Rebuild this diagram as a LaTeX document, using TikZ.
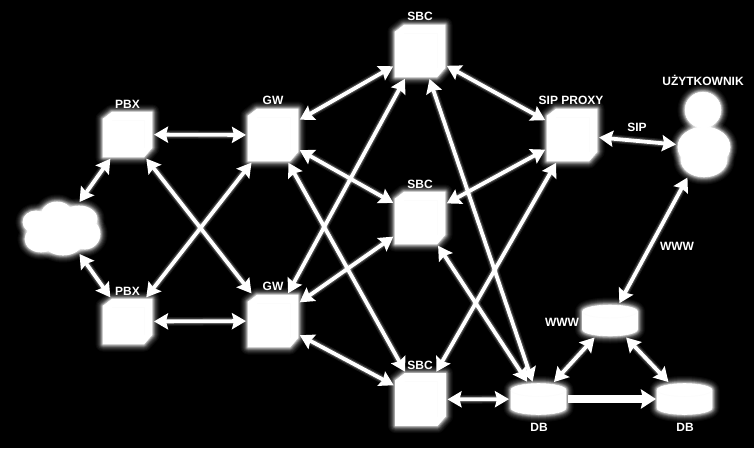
\documentclass[tikz,border=0pt]{standalone}
\usepackage{fontspec}
\setmainfont{Liberation Sans}
\usetikzlibrary{arrows.meta,shapes.geometric}
\tikzset{
  glow/.style={
    preaction={draw=white,draw opacity=.04,line width=15pt,line join=round},
    preaction={draw=white,draw opacity=.05,line width=13pt,line join=round},
    preaction={draw=white,draw opacity=.07,line width=11pt,line join=round},
    preaction={draw=white,draw opacity=.09,line width=9pt,line join=round},
    preaction={draw=white,draw opacity=.12,line width=7pt,line join=round},
    preaction={draw=white,draw opacity=.16,line width=5.5pt,line join=round},
    preaction={draw=white,draw opacity=.22,line width=4pt,line join=round},
    preaction={draw=white,draw opacity=.32,line width=2.5pt,line join=round}},
  solid white/.style={fill=white,draw=white,line width=.6pt},
  faint/.style={draw=black!1.2,line width=.5pt},
  slot/.style={rectangle,inner sep=0pt,outer sep=0pt},
  blob/.style={glow,solid white,ellipse,inner sep=0pt},
  lobe/.style={solid white,ellipse,inner sep=0pt},
  zone/.style={ellipse,inner sep=0pt,outer sep=0pt},
  link/.style={white,line width=3.8pt,shorten <=2pt,shorten >=2pt,
    {Stealth[length=14pt,width=16pt,inset=2pt]}-{Stealth[length=14pt,width=16pt,inset=2pt]},
    preaction={draw=white,draw opacity=.1,line width=8.5pt,arrows=-,shorten <=10pt,shorten >=10pt},
    preaction={draw=white,draw opacity=.2,line width=6pt,arrows=-,shorten <=10pt,shorten >=10pt}},
  fatlink/.style={white,line width=7.5pt,shorten <=2pt,shorten >=1pt,-{Stealth[length=15pt,width=19pt,inset=2pt]}},
  lab/.style={white,font=\bfseries\fontsize{12}{12}\selectfont,inner sep=0pt},
}
% name, x, y, width, height
\newcommand\chambox[5]{%
  \node[slot,minimum width=#4pt,minimum height=#5pt] (#1) at (#2,#3) {};
  \path[glow,solid white] ([xshift=9pt]#1.north west) -- (#1.north east)
    -- ([yshift=9pt]#1.south east) -- ([xshift=-8pt]#1.south east)
    -- (#1.south west) -- ([yshift=-7pt]#1.north west) -- cycle;
  \draw[faint] ([xshift=9pt,yshift=-8pt]#1.north west) -- ([xshift=-8pt,yshift=-8pt]#1.north east)
    -- ([xshift=-8pt,yshift=9pt]#1.south east);
}
\newcommand\drum[5]{%
  \node[slot,minimum width=#4pt,minimum height=#5pt] (#1) at (#2,#3) {};
  \path[glow,solid white] ([yshift=-6.5pt]#1.north west)
    arc[start angle=180,end angle=0,x radius=#4pt/2,y radius=6.5pt]
    -- ([yshift=6.5pt]#1.south east)
    arc[start angle=0,end angle=-180,x radius=#4pt/2,y radius=6.5pt] -- cycle;
  \draw[faint] ([yshift=-6.5pt]#1.north west)
    arc[start angle=180,end angle=360,x radius=#4pt/2,y radius=6.5pt];
}
\begin{document}
\begin{tikzpicture}[x=1pt,y=1pt]
\fill[black] (0,0) rectangle (754,-448);
\useasboundingbox (0,0) rectangle (754,-448);
% cloud
\foreach \n/\cx/\cy/\rx/\ry in {a/36/-222/13/11,b/57/-216/16/14,c/79/-219/18/13,d/41/-239/16/13,e/63/-241/20/14,f/85/-234/15/15}
  \node[blob,minimum width=2*\rx pt,minimum height=2*\ry pt] (lobe\n) at (\cx,\cy) {};
\foreach \n/\cx/\cy/\rx/\ry in {a/36/-222/13/11,b/57/-216/16/14,c/79/-219/18/13,d/41/-239/16/13,e/63/-241/20/14,f/85/-234/15/15}
  \node[lobe,minimum width=2*\rx pt,minimum height=2*\ry pt] (top\n) at (\cx,\cy) {};
\node[solid white,ellipse,minimum width=50pt,minimum height=30pt] (cloudcore) at (60,-228) {};
\node[zone,minimum width=80pt,minimum height=54pt] (cloud) at (61,-228) {};
% boxes
\chambox{pbxa}{127.5}{-134.5}{49}{45}
\chambox{pbxb}{127.5}{-321.5}{49}{45}
\chambox{gwa}{273}{-135}{50}{52}
\chambox{gwb}{273}{-321}{50}{52}
\chambox{sbca}{420}{-51}{50}{52}
\chambox{sbcb}{420}{-218}{50}{52}
\chambox{sbcc}{420.5}{-399.5}{50}{52}
\chambox{sip}{572}{-135}{50}{52}
% person
\node[blob,minimum width=36pt,minimum height=36pt] (head) at (703,-110) {};
\node[blob,minimum width=52pt,minimum height=40pt] (torso) at (704,-147) {};
\node[blob,minimum width=46pt,minimum height=34pt] (legs) at (704,-160) {};
\node[lobe,minimum width=52pt,minimum height=40pt] (torsotop) at (704,-147) {};
\node[zone,minimum width=52pt,minimum height=72pt] (user) at (704,-147) {};
% databases
\drum{www}{610}{-320.5}{55}{31}
\drum{dba}{538.5}{-399}{55}{31}
\drum{dbb}{684.5}{-399}{55}{31}
% connectors
\draw[link] (cloud) -- (pbxa);
\draw[link] (cloud) -- (pbxb);
\draw[link] (pbxa) -- (gwa);
\draw[link] (pbxb) -- (gwb);
\draw[link] (pbxa) -- (gwb);
\draw[link] (pbxb) -- (gwa);
\draw[link] (gwa) -- (sbca);
\draw[link] (gwa) -- (sbcb);
\draw[link] (gwa) -- (sbcc);
\draw[link] (gwb) -- (sbca);
\draw[link] (gwb) -- (sbcb);
\draw[link] (gwb) -- (sbcc);
\draw[link] (sbca) -- (sip);
\draw[link] (sbcb) -- (sip);
\draw[link] (sbcc) -- (sip);
\draw[link] (sbca) -- (dba);
\draw[link] (sbcb) -- (dba);
\draw[link] (sbcc) -- (dba);
\draw[fatlink] (dba) -- (dbb);
\draw[link] (dba) -- (www);
\draw[link] (www) -- (dbb);
\draw[link] (www) -- (user);
\draw[link] (sip) -- (user);
% labels
\node[lab] (lpbxa) at (127.5,-104) {PBX};
\node[lab] (lpbxb) at (127.5,-291) {PBX};
\node[lab] (lgwa) at (273,-100) {GW};
\node[lab] (lgwb) at (273,-286) {GW};
\node[lab] (lsbca) at (420,-16) {SBC};
\node[lab] (lsbcb) at (420,-184) {SBC};
\node[lab] (lsbcc) at (420,-365) {SBC};
\node[lab] (lsip) at (571,-100) {SIP PROXY};
\node[lab] (luser) at (703,-80) {UŻYTKOWNIK};
\node[lab] (lsipl) at (637,-127) {SIP};
\node[lab] (lwwwa) at (677,-246) {WWW};
\node[lab] (lwwwb) at (562,-322) {WWW};
\node[lab] (ldba) at (539,-427) {DB};
\node[lab] (ldbb) at (685,-427) {DB};
\end{tikzpicture}
\end{document}
